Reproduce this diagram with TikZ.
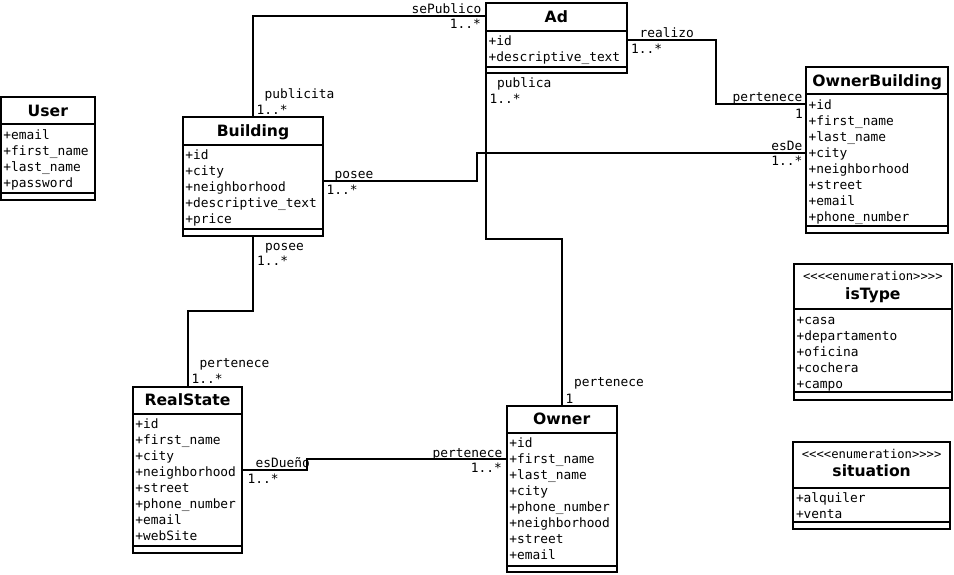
\documentclass[tikz,border=0pt]{standalone}
\usepackage{fontspec}
\setmainfont{DejaVu Sans}
\setmonofont{DejaVu Sans Mono}
\tikzset{
  classbox/.style={draw, line width=2pt, inner sep=0pt, outer sep=0pt},
  boxline/.style={line width=2pt},
  conn/.style={line width=2pt},
  attr/.style={anchor=base west, inner sep=0pt, font=\ttfamily\fontsize{12.85}{16}\selectfont},
  lbl/.style={inner sep=0pt, yshift=-1.5pt, font=\ttfamily\fontsize{12.85}{16}\selectfont},
  ctitle/.style={anchor=base, inner sep=0pt, font=\bfseries\fontsize{15.6}{18}\selectfont},
  stereo/.style={anchor=base, inner sep=0pt, font=\ttfamily\fontsize{12.2}{14}\selectfont},
}
% #1 name, #2 left, #3 top, #4 right, #5 title sep, #6 attr sep, #7 bottom, #8 attributes
\newcommand\classframe[8]{%
  \node[classbox, anchor=north west, minimum width={(#4-#2)*1pt}, minimum height={(#7-#3)*1pt}] (#1) at (#2,#3) {};
  \draw[boxline] (#2,#5) -- (#4,#5) (#2,#6) -- (#4,#6);
  \foreach \atext [count=\i from 0] in {#8} {\node[attr] (#1-a\i) at ({#2+2.5},{#5+14.8+16*\i}) {\atext};}
}
\begin{document}
\begin{tikzpicture}[x=1pt,y=-1pt]
\fill[white] (0,0) rectangle (954,575);
\useasboundingbox (0,0) rectangle (954,575);

% classes
\classframe{user}{0.7}{97.3}{95}{124.3}{193.3}{200}{+email,+first\_name,+last\_name,+password}
\node[ctitle] (user-t) at (47.85,116.6) {User};

\classframe{building}{182.7}{116.7}{323.3}{145}{228.7}{236}{+id,+city,+neighborhood,+descriptive\_text,+price}
\node[ctitle] (building-t) at (253,136.65) {Building};

\classframe{ad}{486}{2.7}{626.7}{30.7}{66.7}{73.3}{+id,+descriptive\_text}
\node[ctitle] (ad-t) at (556.35,22.5) {Ad};

\classframe{ownerb}{806}{66.7}{948.3}{94.3}{225.7}{233.3}{+id,+first\_name,+last\_name,+city,+neighborhood,+street,+email,+phone\_number}
\node[ctitle] (ownerb-t) at (877.15,86.3) {OwnerBuilding};

\classframe{istype}{794}{264}{951.7}{309.3}{392.3}{400}{+casa,+departamento,+oficina,+cochera,+campo}
\node[stereo] (istype-s) at (872.85,280.5) {<<<<enumeration>>>>};
\node[ctitle] (istype-t) at (872.85,299.5) {isType};

\classframe{situation}{793.3}{441.7}{950}{487.7}{522.3}{529.3}{+alquiler,+venta}
\node[stereo] (situation-s) at (871.65,458) {<<<<enumeration>>>>};
\node[ctitle] (situation-t) at (871.65,476.5) {situation};

\classframe{realstate}{132.7}{386.7}{242.3}{414}{545.7}{553.3}{+id,+first\_name,+city,+neighborhood,+street,+phone\_number,+email,+webSite}
\node[ctitle] (realstate-t) at (187.5,405.5) {RealState};

\classframe{owner}{506.7}{405.7}{616.7}{432.7}{565.7}{572.3}{+id,+first\_name,+last\_name,+city,+phone\_number,+neighborhood,+street,+email}
\node[ctitle] (owner-t) at (561.7,424.4) {Owner};

% bend coordinates
\coordinate (c1) at (253,16);
\coordinate (c2a) at (0,40);
\coordinate (c2b) at (716,104.3);
\coordinate (c3a) at (0,180.7);
\coordinate (c3b) at (477.2,152.7);
\coordinate (c4) at (0,239.3);
\coordinate (c5) at (220,310.7);
\coordinate (c6a) at (0,470);
\coordinate (c6b) at (307.3,459.3);

% connectors
\draw[conn] (building.north) |- (ad.west |- c1);
\draw[conn] (ad.east |- c2a) -| (c2b) -- (ownerb.west |- c2b);
\draw[conn] (building.east |- c3a) -| (c3b) -- (ownerb.west |- c3b);
\draw[conn] (ad.south west) -- (ad.south west |- c4) -| (owner.north);
\draw[conn] (building.south) |- (c5) -| (realstate.north);
\draw[conn] (realstate.east |- c6a) -| (c6b) -- (owner.west |- c6b);

% connector labels
\node[lbl, anchor=base east] (l1a) at (481.5,12) {sePublico};
\node[lbl, anchor=base east] (l1b) at (481,26.7) {1..*};
\node[lbl, anchor=base west] (l1c) at (264.5,97) {publicita};
\node[lbl, anchor=base west] (l1d) at (256.5,112.7) {1..*};

\node[lbl, anchor=base west] (l2a) at (639.5,36) {realizo};
\node[lbl, anchor=base west] (l2b) at (631,51.7) {1..*};
\node[lbl, anchor=base east] (l2c) at (802.5,100.5) {pertenece};
\node[lbl, anchor=base east] (l2d) at (803,116.7) {1};

\node[lbl, anchor=base west] (l3a) at (334.5,177.3) {posee};
\node[lbl, anchor=base west] (l3b) at (326.5,192.7) {1..*};
\node[lbl, anchor=base east] (l3c) at (802.5,149.3) {esDe};
\node[lbl, anchor=base east] (l3d) at (802.5,164) {1..*};

\node[lbl, anchor=base west] (l4a) at (497,86.5) {publica};
\node[lbl, anchor=base west] (l4b) at (489.5,101.7) {1..*};
\node[lbl, anchor=base west] (l4c) at (574,385) {pertenece};
\node[lbl, anchor=base west] (l4d) at (565.5,401.7) {1};

\node[lbl, anchor=base west] (l5a) at (265,249) {posee};
\node[lbl, anchor=base west] (l5b) at (257,264) {1..*};
\node[lbl, anchor=base west] (l5c) at (199.5,366) {pertenece};
\node[lbl, anchor=base west] (l5d) at (191.5,381.7) {1..*};

\node[lbl, anchor=base west] (l6a) at (255.5,466) {esDueño};
\node[lbl, anchor=base west] (l6b) at (247.5,481.7) {1..*};
\node[lbl, anchor=base east] (l6c) at (502.5,455.5) {pertenece};
\node[lbl, anchor=base east] (l6d) at (502,470.7) {1..*};
\end{tikzpicture}
\end{document}
